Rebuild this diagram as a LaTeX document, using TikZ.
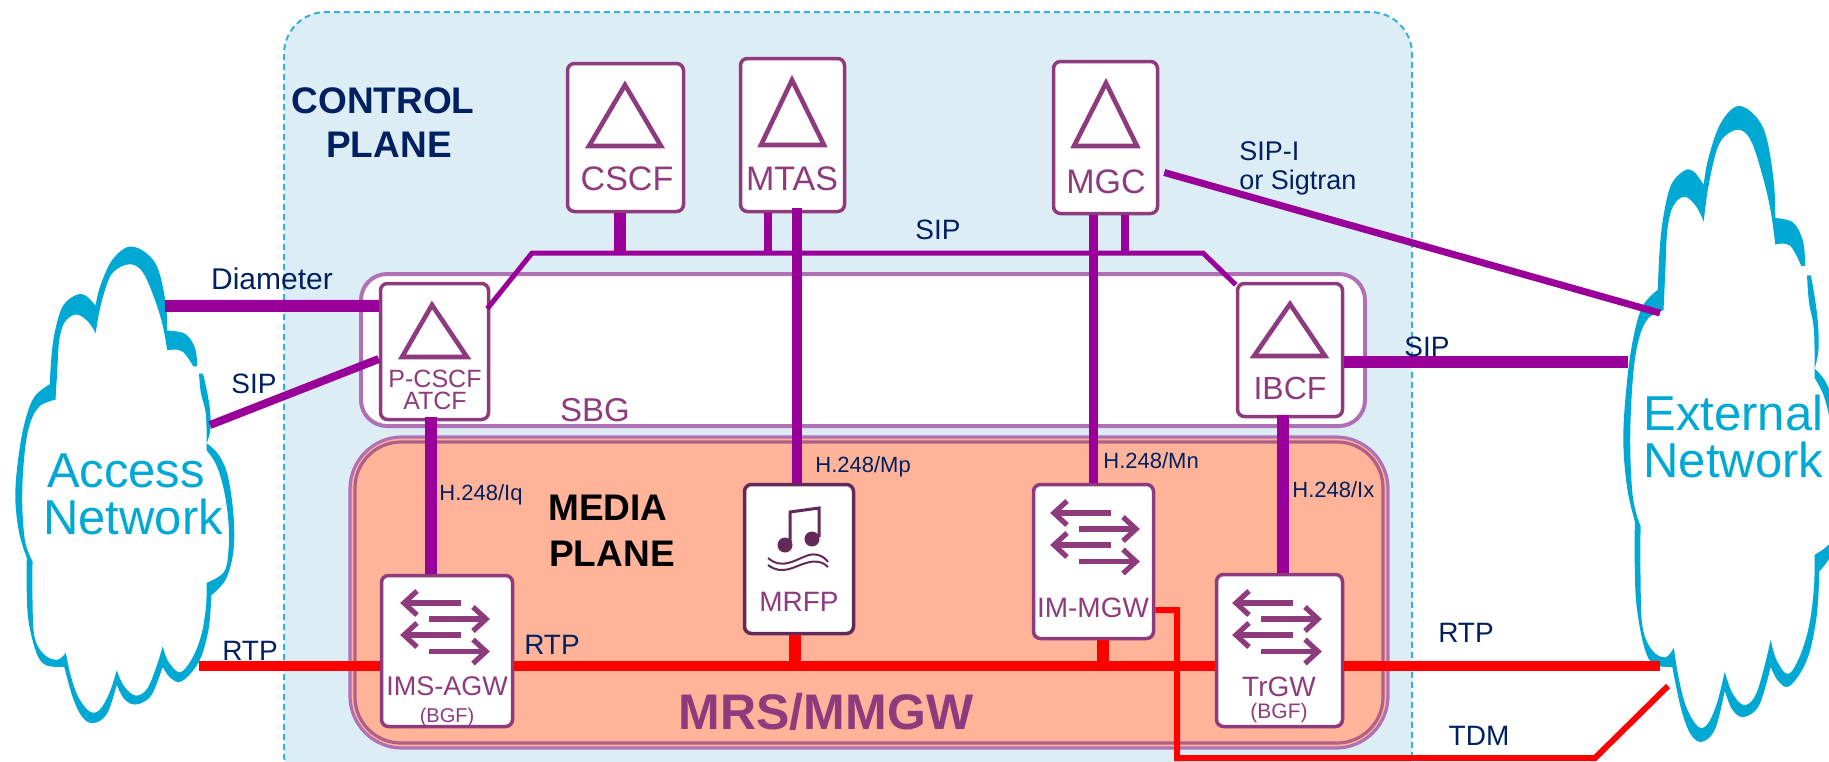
\documentclass[tikz,border=0pt]{standalone}
\usepackage{fontspec}
\setmainfont{Liberation Sans}
\usetikzlibrary{calc}
\definecolor{ctrlfill}{HTML}{DDEDF6}
\definecolor{ctrledge}{HTML}{35B0DC}
\definecolor{mediafill}{HTML}{FFB399}
\definecolor{nodepurple}{HTML}{8E3B7E}
\definecolor{linepurple}{HTML}{990099}
\definecolor{sbgedge}{HTML}{B070B5}
\definecolor{cloudblue}{HTML}{00A9D4}
\definecolor{navy}{HTML}{002060}
\newcommand\fs[1]{\fontsize{#1}{#1}\selectfont}
\newcommand\cloudoutline{
  plot[smooth,tension=.6] coordinates {(515,465)(510,415)(485,375)(442,365)}
  -- plot[smooth,tension=.6] coordinates {(437,365)(432,280)(405,175)(345,130)(295,165)(262,240)(250,295)}
  -- plot[smooth,tension=.6] coordinates {(250,295)(225,268)(200,265)(165,295)(145,360)(135,430)(130,515)}
  -- plot[smooth,tension=.6] coordinates {(130,515)(90,550)(65,620)(48,720)(40,830)(50,930)(70,1000)}
  -- plot[smooth,tension=.6] coordinates {(70,1000)(70,1100)(75,1180)(95,1265)(120,1300)(168,1305)}
  -- plot[smooth,tension=.6] coordinates {(168,1305)(190,1390)(215,1445)(245,1462)(280,1435)(305,1355)}
  -- plot[smooth,tension=.6] coordinates {(305,1355)(325,1395)(355,1410)(395,1385)(425,1305)}
  -- plot[smooth,tension=.6] coordinates {(425,1305)(445,1335)(475,1345)(520,1290)(545,1200)(552,1105)}
  -- plot[smooth,tension=.6] coordinates {(552,1105)(590,1060)(610,980)(610,880)(595,770)(570,710)(540,680)}
  -- plot[smooth,tension=.6] coordinates {(540,680)(550,640)(548,580)(538,520)(530,485)}
  -- plot[smooth,tension=.6] coordinates {(520,485)(525,540)(538,600)(540,700)}
  -- plot[smooth,tension=.6] coordinates {(540,700)(565,740)(585,810)(597,900)(597,980)(585,1040)(540,1070)}
  -- plot[smooth,tension=.6] coordinates {(540,1070)(538,1140)(525,1220)(500,1285)(470,1320)(440,1290)(425,1248)}
  -- plot[smooth,tension=.6] coordinates {(425,1248)(410,1300)(385,1365)(355,1385)(325,1360)(305,1315)}
  -- plot[smooth,tension=.6] coordinates {(305,1315)(285,1380)(260,1425)(235,1430)(205,1390)(185,1330)(172,1265)}
  -- plot[smooth,tension=.6] coordinates {(172,1265)(150,1285)(115,1270)(90,1220)(85,1120)(85,1010)}
  -- plot[smooth,tension=.6] coordinates {(85,1010)(65,950)(58,830)(65,700)(80,620)(105,575)(145,558)}
  -- plot[smooth,tension=.6] coordinates {(145,558)(150,470)(155,390)(170,340)(200,320)(230,340)(250,372)}
  -- plot[smooth,tension=.6] coordinates {(250,372)(262,300)(285,220)(310,190)(345,180)(375,205)(405,280)(425,350)(437,420)}
  -- plot[smooth,tension=.6] coordinates {(437,420)(475,422)(505,465)} -- cycle
}
\newcommand\gwarrows[2]{%
  \begin{scope}[shift={(#1,#2)},gwglyph]
    \foreach \yy in {603,635} {
      \draw (461,\yy) -- (404,\yy);
      \draw (417,\yy-12) -- (404,\yy) -- (417,\yy+12);
    }
    \foreach \yy in {619,651.5} {
      \draw (429,\yy) -- (486,\yy);
      \draw (473,\yy-12) -- (486,\yy) -- (473,\yy+12);
    }
  \end{scope}%
}
\tikzset{
  x=0.5pt,y=-0.5pt,
  netbox/.style={draw=nodepurple,fill=white,line width=1.75pt,rounded corners=3.5pt,inner sep=0pt},
  gwglyph/.style={draw=nodepurple,line width=2.6pt,line join=miter},
  tri/.style={draw=nodepurple,line width=2.3pt,line join=miter},
  boxlabel/.style={text=nodepurple,anchor=base,inner sep=0pt},
  proto/.style={text=navy,anchor=base,inner sep=0pt,font=\fs{14}},
  protoL/.style={text=navy,anchor=base west,inner sep=0pt,font=\fs{14}},
  h248/.style={text=navy,anchor=base west,inner sep=0pt,font=\fs{11}},
  cloudtext/.style={text=cloudblue,inner sep=0pt,font=\fs{24.5}},
  ctrl/.style={draw=linepurple,line cap=butt},
  rtp/.style={draw=red,line width=4.75pt,line cap=butt},
}
\begin{document}
\begin{tikzpicture}
\useasboundingbox (0,0) rectangle (1829,761);
\begin{scope}
\clip (0,0) rectangle (1829,761);
\fill[white] (0,0) rectangle (1829,761);
% control plane
\draw[fill=ctrlfill,draw=ctrledge,line width=1pt,dash pattern=on 3pt off 2pt,rounded corners=21pt] (284,12) rectangle (1412,795);
% SBG
\draw[fill=white,draw=sbgedge,line width=2pt,rounded corners=13pt] (361,274) rectangle (1365,426);
% media plane
\draw[fill=mediafill,draw=sbgedge,line width=1.6pt,rounded corners=26pt] (350,437) rectangle (1388,748);
\draw[draw=nodepurple!70!mediafill,line width=1.6pt,rounded corners=23pt] (355,442) rectangle (1383,743);
% clouds
\begin{scope}[shift={(0,200)},xscale=.3827,yscale=.3578]
  \fill[cloudblue] \cloudoutline;
\end{scope}
\begin{scope}[shift={(1608,44)},xscale=.3827,yscale=.4773]
  \fill[cloudblue] \cloudoutline;
\end{scope}
\node[cloudtext,anchor=base] (acc1) at (126,487) {Access};
\node[cloudtext,anchor=base] (acc2) at (133,534.5) {Network};
\node[cloudtext,anchor=base west] (ext1) at (1643,430) {External};
\node[cloudtext,anchor=base west] (ext2) at (1643,477) {Network};
% boxes
\node[netbox,minimum width=58pt,minimum height=74pt] (cscf) at (625.5,137.5) {};
\node[netbox,minimum width=52pt,minimum height=76.5pt] (mtas) at (792.5,135) {};
\node[netbox,minimum width=52pt,minimum height=76pt] (mgc) at (1105.5,137.5) {};
\node[netbox,minimum width=54pt,minimum height=68pt] (pcscf) at (434.5,351.5) {};
\node[netbox,minimum width=52.5pt,minimum height=66.5pt] (ibcf) at (1290,350) {};
\node[netbox,minimum width=65.5pt,minimum height=75.5pt] (imsagw) at (447,651) {};
\node[netbox,draw=nodepurple!70!black,minimum width=54.5pt,minimum height=74.5pt] (mrfp) at (799,559) {};
\node[netbox,minimum width=60pt,minimum height=77pt] (immgw) at (1093.5,561.5) {};
\node[netbox,minimum width=63pt,minimum height=76pt] (trgw) at (1279.5,650.5) {};
% triangles
\draw[tri] (625,85) -- (589,146) -- (661,146) -- cycle;
\draw[tri] (792,80) -- (761,145) -- (824,145) -- cycle;
\draw[tri] (1106,83) -- (1074,146) -- (1137,146) -- cycle;
\draw[tri] (432,305) -- (402,357) -- (467,357) -- cycle;
\draw[tri] (1290,304) -- (1254,356) -- (1325,356) -- cycle;
% gateway arrows
\gwarrows{0}{0}
\gwarrows{650}{-90}
\gwarrows{832}{0}
% music note
\begin{scope}[nodepurple!70!black]
  \fill (785,545) circle (7.5);
  \fill (812,539) circle (7.5);
  \draw[line width=1.5pt] (790,543) -- (790,512) -- (819,508) -- (819,537);
  \draw[line width=1pt] (768,558) .. controls (782,570) and (795,560) .. (806,556) .. controls (815,552) and (824,556) .. (828,562);
  \draw[line width=1pt] (768,565) .. controls (782,576) and (795,566) .. (806,563) .. controls (815,560) and (824,562) .. (828,567);
\end{scope}
% box labels
\node[boxlabel,font=\fs{17}] (tcscf) at (627,190) {CSCF};
\node[boxlabel,font=\fs{17}] (tmtas) at (792,190) {MTAS};
\node[boxlabel,font=\fs{17}] (tmgc) at (1106,193) {MGC};
\node[boxlabel,font=\fs{12.5}] (tpcscf) at (435,387) {P-CSCF};
\node[boxlabel,font=\fs{12.5}] (tatcf) at (435,409) {ATCF};
\node[boxlabel,font=\fs{16}] (tibcf) at (1290,399) {IBCF};
\node[boxlabel,font=\fs{13.5}] (tims) at (447,695) {IMS-AGW};
\node[boxlabel,font=\fs{10}] (tbgf1) at (447,722) {(BGF)};
\node[boxlabel,font=\fs{14}] (tmrfp) at (799,611) {MRFP};
\node[boxlabel,font=\fs{14}] (tmgw) at (1093,617) {IM-MGW};
\node[boxlabel,font=\fs{14}] (ttrgw) at (1279,696) {TrGW};
\node[boxlabel,font=\fs{10.5}] (tbgf2) at (1279,718) {(BGF)};
\node[boxlabel,font=\fs{16.5}] (tsbg) at (595,421) {SBG};
\node[boxlabel,font=\bfseries\fs{25}] (tmrs) at (826,729) {MRS/MMGW};
% plane titles
\node[text=navy,anchor=base,inner sep=0pt,font=\bfseries\fs{18.5}] (cp1) at (383,113) {CONTROL};
\node[text=navy,anchor=base,inner sep=0pt,font=\bfseries\fs{18.5}] (cp2) at (389,157) {PLANE};
\node[text=black,anchor=base,inner sep=0pt,font=\bfseries\fs{18.5}] (mp1) at (608,520) {MEDIA};
\node[text=black,anchor=base,inner sep=0pt,font=\bfseries\fs{18.5}] (mp2) at (612,566) {PLANE};
% free line ends
\coordinate (accD) at (165,306);
\coordinate (accS) at (210,425);
\coordinate (accR) at (199,666);
\coordinate (extM) at (1660,313);
\coordinate (extS) at (1628,362);
\coordinate (extR) at (1660,666);
\coordinate (extT) at (1668,686);
\coordinate (busA) at (532,253);
\coordinate (busB) at (1203,253);
\coordinate (tdmA) at (1177,610);
\coordinate (tdmB) at (1177,758);
\coordinate (tdmC) at (1595,758);
% control links
\draw[ctrl,line width=6pt] (accD) -- ($(pcscf.north west)+(0,24)$);
\draw[ctrl,line width=4pt] (accS) -- ($(pcscf.west)+(0,7.5)$);
\draw[ctrl,line width=2.5pt,line join=miter] ($(pcscf.north east)+(-3,27)$) -- (busA) -- (busB) -- ($(ibcf.north west)+(0,3)$);
\draw[ctrl,line width=6pt] ($(cscf.south)+(-6,0)$) -- ($(cscf.south)+(-6,40)$);
\draw[ctrl,line width=4pt] ($(mtas.south)+(-24.5,0)$) -- ($(mtas.south)+(-24.5,40)$);
\draw[ctrl,line width=5pt] ($(mtas.south)+(4.5,-5)$) -- ($(mrfp.north)+(-2,0)$);
\draw[ctrl,line width=4.5pt] ($(mgc.south)+(-12.5,0)$) -- ($(immgw.north)+(-.5,0)$);
\draw[ctrl,line width=4pt] ($(mgc.south)+(19.5,0)$) -- ($(mgc.south)+(19.5,40)$);
\draw[ctrl,line width=3.5pt] ($(mgc.east)+(5,35)$) -- (extM);
\draw[ctrl,line width=6pt] (ibcf.east |- extS) -- (extS);
\draw[ctrl,line width=6pt] ($(pcscf.south)+(-3.5,-4)$) -- ($(imsagw.north)+(-16,0)$);
\draw[ctrl,line width=6pt] ($(ibcf.south)+(-7,-3)$) -- ($(trgw.north)+(3.5,0)$);
% media links
\draw[rtp] (accR) -- (imsagw.west |- accR);
\draw[rtp] (imsagw.east |- accR) -- (trgw.west |- accR);
\draw[rtp] (trgw.east |- accR) -- (extR);
\draw[draw=red,line width=6pt] ($(mrfp.south)+(-4,0)$) -- ($(mrfp.south)+(-4,33)$);
\draw[draw=red,line width=6pt] ($(immgw.south)+(9.5,0)$) -- ($(immgw.south)+(9.5,28)$);
\draw[draw=red,line width=3pt,line join=miter] (immgw.east |- tdmA) -- (tdmA) -- (tdmB) -- (tdmC) -- (extT);
% protocol labels
\node[proto,font=\fs{15}] (ldia) at (272,289) {Diameter};
\node[proto] (lsip1) at (254,393) {SIP};
\node[proto] (lrtp1) at (250,660) {RTP};
\node[proto] (lrtp2) at (552,654) {RTP};
\node[proto] (lsip2) at (938,239) {SIP};
\node[proto] (lsip3) at (1427,356) {SIP};
\node[proto] (lrtp3) at (1466,642) {RTP};
\node[proto] (ltdm) at (1479,745) {TDM};
\node[protoL,font=\fs{13.5}] (lsipi) at (1239,160) {SIP-I};
\node[protoL,font=\fs{13.5}] (lsigt) at (1239,189) {or Sigtran};
\node[h248] (hiq) at (439,500.5) {H.248/Iq};
\node[h248] (hmp) at (815,472) {H.248/Mp};
\node[h248] (hmn) at (1103,468) {H.248/Mn};
\node[h248] (hix) at (1292,497) {H.248/Ix};
\end{scope}
\end{tikzpicture}
\end{document}
